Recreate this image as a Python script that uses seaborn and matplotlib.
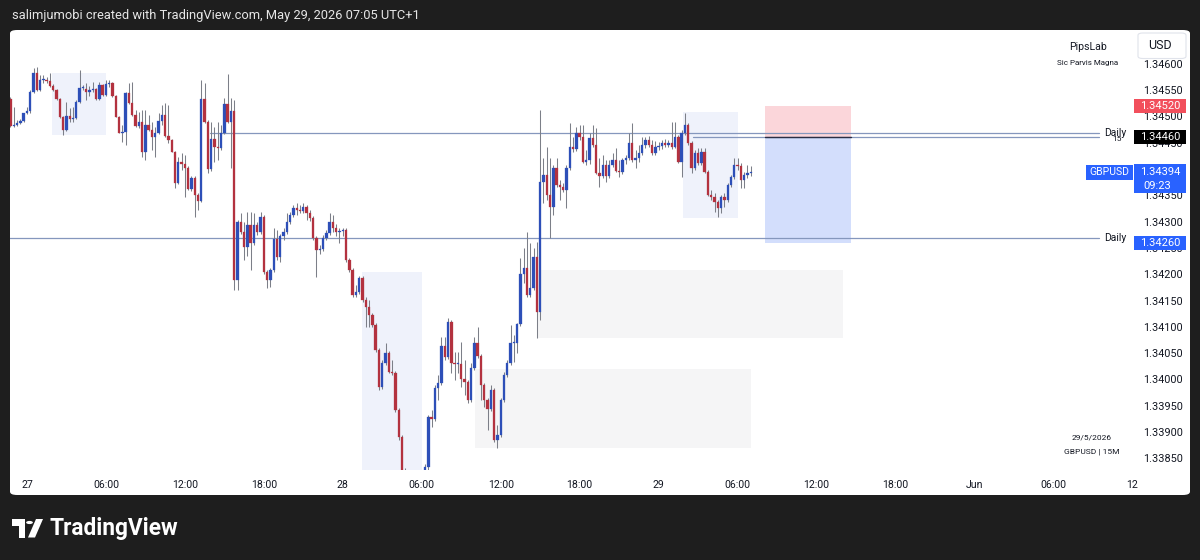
import numpy as np
import matplotlib
matplotlib.use("Agg")
import matplotlib.pyplot as plt
import matplotlib.transforms as mtransforms
from matplotlib.patches import Rectangle, FancyBboxPatch, Circle, Polygon
import seaborn as sns

# ---------------- data (GBPUSD 15m, bars from 26 May 22:45) ----------------
opens = [
    1.34533, 1.34481, 1.34483, 1.34487, 1.34491, 1.34506, 1.34510, 1.34546, 1.34582, 1.34550,
    1.34569, 1.34569, 1.34567, 1.34558, 1.34550, 1.34533, 1.34499, 1.34474, 1.34500, 1.34495,
    1.34497, 1.34527, 1.34554, 1.34552, 1.34546, 1.34550, 1.34552, 1.34533, 1.34559, 1.34540,
    1.34561, 1.34563, 1.34538, 1.34499, 1.34468, 1.34470, 1.34544, 1.34525, 1.34502, 1.34481,
    1.34489, 1.34432, 1.34483, 1.34474, 1.34461, 1.34468, 1.34491, 1.34502, 1.34463, 1.34455,
    1.34432, 1.34373, 1.34413, 1.34409, 1.34402, 1.34362, 1.34383, 1.34350, 1.34339, 1.34533,
    1.34489, 1.34400, 1.34457, 1.34442, 1.34440, 1.34468, 1.34523, 1.34489, 1.34510, 1.34189,
    1.34299, 1.34280, 1.34252, 1.34293, 1.34259, 1.34293, 1.34280, 1.34309, 1.34204, 1.34189,
    1.34208, 1.34267, 1.34232, 1.34272, 1.34280, 1.34299, 1.34312, 1.34326, 1.34322, 1.34320,
    1.34328, 1.34316, 1.34307, 1.34269, 1.34246, 1.34248, 1.34269, 1.34278, 1.34299, 1.34288,
    1.34280, 1.34282, 1.34284, 1.34227, 1.34208, 1.34160, 1.34166, 1.34192, 1.34151, 1.34137,
    1.34122, 1.34103, 1.34056, 1.33985, 1.34031, 1.34050, 1.34014, 1.34012, 1.33942, 1.33890,
    1.33824, 1.33790, 1.33771, 1.33780, 1.33765, 1.33793, 1.33816, 1.33833, 1.33928, 1.33925,
    1.33983, 1.33993, 1.34063, 1.34042, 1.34109, 1.34031, 1.34029, 1.34029, 1.34000, 1.33995,
    1.33961, 1.34021, 1.34069, 1.34044, 1.33989, 1.33961, 1.33944, 1.33980, 1.33885, 1.33894,
    1.33961, 1.34008, 1.34031, 1.34069, 1.34069, 1.34105, 1.34200, 1.34211, 1.34160, 1.34173,
    1.34232, 1.34128, 1.34375, 1.34388, 1.34350, 1.34328, 1.34402, 1.34369, 1.34366, 1.34360,
    1.34402, 1.34442, 1.34438, 1.34468, 1.34461, 1.34413, 1.34417, 1.34459, 1.34445, 1.34392,
    1.34386, 1.34407, 1.34386, 1.34407, 1.34417, 1.34396, 1.34394, 1.34417, 1.34421, 1.34449,
    1.34417, 1.34421, 1.34430, 1.34445, 1.34455, 1.34445, 1.34430, 1.34442, 1.34443, 1.34449,
    1.34445, 1.34449, 1.34442, 1.34461, 1.34413, 1.34468, 1.34483, 1.34449, 1.34402, 1.34430,
    1.34411, 1.34432, 1.34394, 1.34350, 1.34347, 1.34337, 1.34326, 1.34347, 1.34341, 1.34369,
    1.34385, 1.34407, 1.34405, 1.34379, 1.34388, 1.34392,
]
highs = [
    1.34537, 1.34518, 1.34493, 1.34495, 1.34500, 1.34518, 1.34550, 1.34592, 1.34594, 1.34578,
    1.34578, 1.34575, 1.34582, 1.34561, 1.34552, 1.34535, 1.34500, 1.34527, 1.34516, 1.34518,
    1.34531, 1.34588, 1.34559, 1.34563, 1.34558, 1.34565, 1.34554, 1.34565, 1.34561, 1.34569,
    1.34569, 1.34565, 1.34540, 1.34500, 1.34483, 1.34546, 1.34563, 1.34565, 1.34512, 1.34508,
    1.34512, 1.34512, 1.34502, 1.34489, 1.34480, 1.34506, 1.34521, 1.34525, 1.34521, 1.34457,
    1.34434, 1.34423, 1.34430, 1.34426, 1.34405, 1.34386, 1.34386, 1.34354, 1.34569, 1.34563,
    1.34493, 1.34489, 1.34480, 1.34489, 1.34483, 1.34535, 1.34580, 1.34535, 1.34531, 1.34303,
    1.34316, 1.34299, 1.34318, 1.34318, 1.34316, 1.34299, 1.34318, 1.34312, 1.34208, 1.34211,
    1.34288, 1.34284, 1.34276, 1.34288, 1.34316, 1.34318, 1.34331, 1.34335, 1.34331, 1.34335,
    1.34331, 1.34322, 1.34310, 1.34272, 1.34255, 1.34274, 1.34284, 1.34316, 1.34312, 1.34295,
    1.34288, 1.34288, 1.34288, 1.34230, 1.34211, 1.34179, 1.34196, 1.34196, 1.34156, 1.34151,
    1.34126, 1.34107, 1.34060, 1.34037, 1.34069, 1.34054, 1.34037, 1.34016, 1.33945, 1.33894,
    1.33831, 1.33805, 1.33790, 1.33793, 1.33799, 1.33820, 1.33839, 1.33932, 1.33942, 1.33989,
    1.34008, 1.34080, 1.34080, 1.34116, 1.34113, 1.34052, 1.34052, 1.34071, 1.34037, 1.33999,
    1.34031, 1.34080, 1.34099, 1.34048, 1.33993, 1.33964, 1.33989, 1.33983, 1.33913, 1.33964,
    1.34014, 1.34037, 1.34103, 1.34084, 1.34107, 1.34230, 1.34250, 1.34280, 1.34259, 1.34250,
    1.34261, 1.34512, 1.34421, 1.34442, 1.34421, 1.34407, 1.34421, 1.34379, 1.34373, 1.34407,
    1.34487, 1.34461, 1.34480, 1.34483, 1.34483, 1.34436, 1.34468, 1.34483, 1.34478, 1.34421,
    1.34426, 1.34417, 1.34417, 1.34430, 1.34440, 1.34417, 1.34421, 1.34426, 1.34468, 1.34487,
    1.34436, 1.34445, 1.34461, 1.34461, 1.34463, 1.34455, 1.34453, 1.34451, 1.34455, 1.34457,
    1.34455, 1.34489, 1.34489, 1.34464, 1.34474, 1.34506, 1.34487, 1.34453, 1.34436, 1.34440,
    1.34440, 1.34440, 1.34398, 1.34360, 1.34354, 1.34341, 1.34350, 1.34354, 1.34373, 1.34388,
    1.34421, 1.34421, 1.34411, 1.34394, 1.34407, 1.34405,
]
lows = [
    1.34480, 1.34480, 1.34481, 1.34485, 1.34489, 1.34504, 1.34506, 1.34544, 1.34548, 1.34548,
    1.34563, 1.34563, 1.34556, 1.34548, 1.34531, 1.34497, 1.34464, 1.34472, 1.34489, 1.34489,
    1.34495, 1.34525, 1.34550, 1.34531, 1.34538, 1.34546, 1.34531, 1.34531, 1.34538, 1.34538,
    1.34556, 1.34537, 1.34499, 1.34468, 1.34451, 1.34445, 1.34523, 1.34500, 1.34480, 1.34478,
    1.34423, 1.34417, 1.34472, 1.34436, 1.34423, 1.34466, 1.34483, 1.34461, 1.34449, 1.34432,
    1.34364, 1.34371, 1.34398, 1.34347, 1.34360, 1.34358, 1.34309, 1.34322, 1.34337, 1.34487,
    1.34392, 1.34396, 1.34413, 1.34417, 1.34436, 1.34466, 1.34487, 1.34402, 1.34170, 1.34170,
    1.34276, 1.34227, 1.34234, 1.34208, 1.34255, 1.34274, 1.34276, 1.34200, 1.34173, 1.34175,
    1.34204, 1.34227, 1.34223, 1.34265, 1.34276, 1.34295, 1.34309, 1.34312, 1.34316, 1.34316,
    1.34303, 1.34301, 1.34265, 1.34194, 1.34238, 1.34244, 1.34265, 1.34274, 1.34280, 1.34272,
    1.34259, 1.34272, 1.34223, 1.34204, 1.34156, 1.34156, 1.34162, 1.34147, 1.34099, 1.34099,
    1.34099, 1.34052, 1.33980, 1.33982, 1.34027, 1.34012, 1.34008, 1.33938, 1.33885, 1.33818,
    1.33786, 1.33767, 1.33765, 1.33759, 1.33761, 1.33790, 1.33808, 1.33828, 1.33909, 1.33921,
    1.33961, 1.33989, 1.34037, 1.34039, 1.34012, 1.33999, 1.34012, 1.33985, 1.33970, 1.33955,
    1.33957, 1.34018, 1.34040, 1.33961, 1.33947, 1.33904, 1.33940, 1.33881, 1.33869, 1.33890,
    1.33957, 1.34004, 1.34027, 1.34033, 1.34050, 1.34101, 1.34183, 1.34156, 1.34156, 1.34170,
    1.34079, 1.34113, 1.34335, 1.34341, 1.34269, 1.34312, 1.34366, 1.34341, 1.34356, 1.34326,
    1.34398, 1.34432, 1.34434, 1.34455, 1.34411, 1.34407, 1.34409, 1.34442, 1.34390, 1.34366,
    1.34383, 1.34375, 1.34383, 1.34404, 1.34394, 1.34385, 1.34390, 1.34409, 1.34417, 1.34413,
    1.34402, 1.34413, 1.34426, 1.34440, 1.34442, 1.34426, 1.34426, 1.34436, 1.34438, 1.34442,
    1.34442, 1.34438, 1.34440, 1.34411, 1.34385, 1.34464, 1.34445, 1.34392, 1.34398, 1.34407,
    1.34407, 1.34392, 1.34348, 1.34341, 1.34318, 1.34309, 1.34316, 1.34328, 1.34337, 1.34366,
    1.34381, 1.34398, 1.34364, 1.34364, 1.34383, 1.34386,
]
closes = [
    1.34481, 1.34483, 1.34487, 1.34491, 1.34506, 1.34510, 1.34546, 1.34582, 1.34550, 1.34569,
    1.34569, 1.34567, 1.34558, 1.34550, 1.34533, 1.34499, 1.34474, 1.34500, 1.34495, 1.34497,
    1.34527, 1.34554, 1.34554, 1.34546, 1.34550, 1.34552, 1.34533, 1.34559, 1.34540, 1.34561,
    1.34563, 1.34538, 1.34499, 1.34468, 1.34470, 1.34544, 1.34525, 1.34502, 1.34481, 1.34489,
    1.34432, 1.34483, 1.34474, 1.34461, 1.34468, 1.34491, 1.34502, 1.34463, 1.34455, 1.34432,
    1.34373, 1.34413, 1.34409, 1.34402, 1.34362, 1.34383, 1.34350, 1.34339, 1.34533, 1.34489,
    1.34400, 1.34457, 1.34442, 1.34440, 1.34468, 1.34523, 1.34489, 1.34510, 1.34189, 1.34299,
    1.34280, 1.34252, 1.34293, 1.34259, 1.34293, 1.34280, 1.34309, 1.34204, 1.34189, 1.34208,
    1.34267, 1.34232, 1.34272, 1.34280, 1.34299, 1.34312, 1.34326, 1.34322, 1.34320, 1.34328,
    1.34316, 1.34307, 1.34269, 1.34246, 1.34248, 1.34269, 1.34278, 1.34299, 1.34288, 1.34280,
    1.34282, 1.34284, 1.34227, 1.34208, 1.34160, 1.34166, 1.34192, 1.34151, 1.34137, 1.34122,
    1.34103, 1.34056, 1.33985, 1.34031, 1.34050, 1.34014, 1.34012, 1.33942, 1.33890, 1.33824,
    1.33790, 1.33771, 1.33780, 1.33765, 1.33793, 1.33816, 1.33833, 1.33928, 1.33925, 1.33983,
    1.33993, 1.34063, 1.34042, 1.34109, 1.34031, 1.34029, 1.34029, 1.34000, 1.33995, 1.33961,
    1.34021, 1.34069, 1.34044, 1.33989, 1.33961, 1.33944, 1.33980, 1.33885, 1.33894, 1.33961,
    1.34008, 1.34031, 1.34069, 1.34069, 1.34105, 1.34200, 1.34211, 1.34160, 1.34173, 1.34232,
    1.34128, 1.34375, 1.34388, 1.34350, 1.34328, 1.34402, 1.34369, 1.34366, 1.34360, 1.34402,
    1.34442, 1.34438, 1.34468, 1.34461, 1.34413, 1.34417, 1.34459, 1.34445, 1.34392, 1.34386,
    1.34407, 1.34386, 1.34407, 1.34417, 1.34396, 1.34394, 1.34417, 1.34421, 1.34449, 1.34417,
    1.34421, 1.34430, 1.34445, 1.34455, 1.34445, 1.34430, 1.34442, 1.34443, 1.34449, 1.34445,
    1.34449, 1.34442, 1.34461, 1.34413, 1.34468, 1.34483, 1.34449, 1.34402, 1.34430, 1.34411,
    1.34432, 1.34394, 1.34350, 1.34347, 1.34337, 1.34326, 1.34347, 1.34341, 1.34369, 1.34385,
    1.34407, 1.34405, 1.34379, 1.34388, 1.34392, 1.34394,
]

time_labels = ["27", "06:00", "12:00", "18:00", "28", "06:00", "12:00", "18:00",
               "29", "06:00", "12:00", "18:00", "Jun", "06:00", "12"]
first_label_bar = 5          # bar index of 27 May 00:00
bars_per_label = 24          # 6 hours of 15-minute bars
price_ticks = [1.34600, 1.34550, 1.34500, 1.34450, 1.34350, 1.34300, 1.34250,
               1.34200, 1.34150, 1.34100, 1.34050, 1.34000, 1.33950, 1.33900, 1.33850]

daily_high = 1.34468
daily_low = 1.34268
entry_price = 1.34460
stop_price = 1.34520
target_price = 1.34260
last_price = 1.34394
countdown = "09:23"

# zones: (first bar, last bar, low price, high price)
blue_zones = [(12.6, 29.0, 1.34464, 1.34582),
              (106.8, 125.0, 1.33700, 1.34204),
              (204.4, 221.1, 1.34307, 1.34508)]
gray_zones = [(160.0, 253.0, 1.34078, 1.34208),
              (141.2, 225.0, 1.33869, 1.34020)]
position_bars = (229.3, 255.5)

# ---------------- style ----------------
sns.set_theme(style="white")
plt.rcParams['font.family'] = ['Roboto', 'DejaVu Sans']

W, H = 1200, 560
fig = plt.figure(figsize=(12, 5.6), dpi=100, facecolor='#1e1e1e')


def fx(x):
    return x / W


def fy(y):
    return 1 - y / H


panel = FancyBboxPatch((fx(10), fy(495)), 1180 / W, 465 / H,
                       boxstyle="round,pad=0,rounding_size=0.006",
                       transform=fig.transFigure, facecolor='white',
                       edgecolor='none', zorder=-5)
fig.add_artist(panel)

ax = fig.add_axes([fx(10), fy(470), 1125 / W, 440 / H])
ax.set_facecolor('none')
ax.set_xlim(-0.15, 341.8)
ax.set_ylim(1.33828, 1.34664)

o = np.array(opens)
h = np.array(highs)
l = np.array(lows)
c = np.array(closes)
x = np.arange(len(c))
up = c >= o
body_col = np.where(up, '#2d4fb8', '#b3323f')

# zones
for x0, x1, p0, p1 in blue_zones:
    ax.add_patch(Rectangle((x0, p0), x1 - x0, p1 - p0, facecolor='#eff2fb',
                           edgecolor='none', zorder=1))
for x0, x1, p0, p1 in gray_zones:
    ax.add_patch(Rectangle((x0, p0), x1 - x0, p1 - p0, facecolor='#f5f5f6',
                           edgecolor='none', zorder=1))

# position tool
px0, px1 = position_bars
ax.add_patch(Rectangle((px0, entry_price), px1 - px0, stop_price - entry_price,
                       facecolor='#fbd6da', edgecolor='none', zorder=1.5))
ax.add_patch(Rectangle((px0, target_price), px1 - px0, entry_price - target_price,
                       facecolor='#d3defc', edgecolor='none', zorder=1.5))

# horizontal levels
line_col = '#8597bd'
ax.plot([60.6, 331], [daily_high, daily_high], color=line_col, lw=0.9, zorder=2)
ax.plot([-1, 331], [daily_low, daily_low], color=line_col, lw=0.9, zorder=2)
ax.plot([207.4, 331], [entry_price, entry_price], color=line_col, lw=0.9, zorder=2)
ax.plot([px0, px1], [entry_price, entry_price], color='#2a2e45', lw=1.0, zorder=2.5)

ax.text(335.7, daily_high + 0.00001, "Daily", ha='center', va='center', fontsize=7.5,
        color='#131722', zorder=6)
ax.text(336.4, entry_price - 0.00004, "15", ha='center', va='center', fontsize=6,
        color='#131722', zorder=5)
ax.text(335.7, daily_low, "Daily", ha='center', va='center', fontsize=7.5,
        color='#131722', zorder=6)

# candles
ax.vlines(x, l, h, color='#7c7f88', lw=0.75, zorder=3)
bottom = np.minimum(o, c)
height = np.maximum(np.abs(c - o), 0.000018)
ax.bar(x, height, bottom=bottom, width=0.72, color=body_col, edgecolor=body_col,
       linewidth=0.2, zorder=4)

# axes
sns.despine(ax=ax, left=True, bottom=True, right=True, top=True)
ax.set_xticks([first_label_bar + bars_per_label * k for k in range(len(time_labels))])
ax.set_xticklabels(time_labels)
ax.yaxis.tick_right()
ax.set_yticks(price_ticks)
ax.set_yticklabels([f"{p:.5f}" for p in price_ticks])
ax.tick_params(axis='x', length=0, pad=7, labelsize=7.6, labelcolor='#131722')
ax.tick_params(axis='y', length=0, pad=6, labelsize=7.8, labelcolor='#131722')
ax.grid(False)

# price axis labels (x in figure, y in data)
tr = mtransforms.blended_transform_factory(fig.transFigure, ax.transData)
pxp = 0.00001901   # price per pixel


def price_box(price, color, text, top_px=7, bot_px=7, x0=1134, x1=1186, tcol='white'):
    ax.add_patch(Rectangle((fx(x0), price - bot_px * pxp), (x1 - x0) / W,
                           (top_px + bot_px) * pxp, transform=tr, facecolor=color,
                           edgecolor='none', zorder=10, clip_on=False))
    ax.text(fx((x0 + x1) / 2), price, text, transform=tr, ha='center', va='center',
            fontsize=8, color=tcol, zorder=11, clip_on=False)


price_box(stop_price, '#f24f5c', f"{stop_price:.5f}")
price_box(entry_price, '#000000', f"{entry_price:.5f}")
price_box(target_price, '#2962ff', f"{target_price:.5f}")
# last price with countdown
ax.add_patch(Rectangle((fx(1134), last_price - 20.5 * pxp), 52 / W, 28.5 * pxp,
                       transform=tr, facecolor='#2962ff', edgecolor='none',
                       zorder=10, clip_on=False))
ax.text(fx(1160), last_price, f"{last_price:.5f}", transform=tr, ha='center',
        va='center', fontsize=8, color='white', zorder=11, clip_on=False)
ax.text(fx(1157), last_price - 13.5 * pxp, countdown, transform=tr, ha='center',
        va='center', fontsize=8, color='white', zorder=11, clip_on=False)
ax.add_patch(Rectangle((fx(1086), last_price - 7.5 * pxp), 46.5 / W, 15 * pxp,
                       transform=tr, facecolor='#2962ff', edgecolor='none',
                       zorder=10, clip_on=False))
ax.text(fx(1109.3), last_price, "GBPUSD", transform=tr, ha='center', va='center',
        fontsize=7.5, color='white', zorder=11, clip_on=False)

# USD button
fig.add_artist(FancyBboxPatch((fx(1138), fy(58.5)), 48 / W, 25.5 / H,
                              boxstyle="round,pad=0,rounding_size=0.004",
                              transform=fig.transFigure, facecolor='white',
                              edgecolor='#e0e3eb', lw=0.8, zorder=12))
fig.text(fx(1160), fy(45.5), "USD", ha='center', va='center', fontsize=9,
         color='#131722', zorder=13)

# watermark texts
fig.text(fx(1088), fy(47), "PipsLab", ha='center', va='center', fontsize=7.6,
         color='#131722')
fig.text(fx(1088), fy(63), "Sic Parvis Magna", ha='center', va='center', fontsize=5.8,
         color='#131722')
fig.text(fx(1092), fy(437), "29/5/2026", ha='center', va='center', fontsize=6,
         color='#131722')
fig.text(fx(1092), fy(452), "GBPUSD | 15M", ha='center', va='center', fontsize=6,
         color='#131722')

# header
fig.text(fx(12), fy(16), "salimjumobi created with TradingView.com, May 29, 2026 07:05 UTC+1",
         ha='left', va='center', fontsize=9.3, color='#e6e6e6')

# TradingView logo
logo_col = 'white'
fig.add_artist(Rectangle((fx(12), fy(525.5)), 13 / W, 6.5 / H, transform=fig.transFigure,
                         facecolor=logo_col, edgecolor='none'))
fig.add_artist(Rectangle((fx(18.5), fy(537.5)), 6.5 / W, 18.5 / H, transform=fig.transFigure,
                         facecolor=logo_col, edgecolor='none'))
fig.add_artist(Circle((fx(29.5), fy(522.5)), 3.4 / W, transform=fig.transFigure,
                      facecolor=logo_col, edgecolor='none'))
fig.add_artist(Polygon([(fx(28), fy(537.5)), (fx(36), fy(519)), (fx(43), fy(519)),
                        (fx(35), fy(537.5))], closed=True, transform=fig.transFigure,
                       facecolor=logo_col, edgecolor='none'))
fig.text(fx(50), fy(528.5), "TradingView", ha='left', va='center', fontsize=16.3,
         fontweight='bold', color='white')

fig.savefig("out.png", dpi=100, facecolor=fig.get_facecolor())
